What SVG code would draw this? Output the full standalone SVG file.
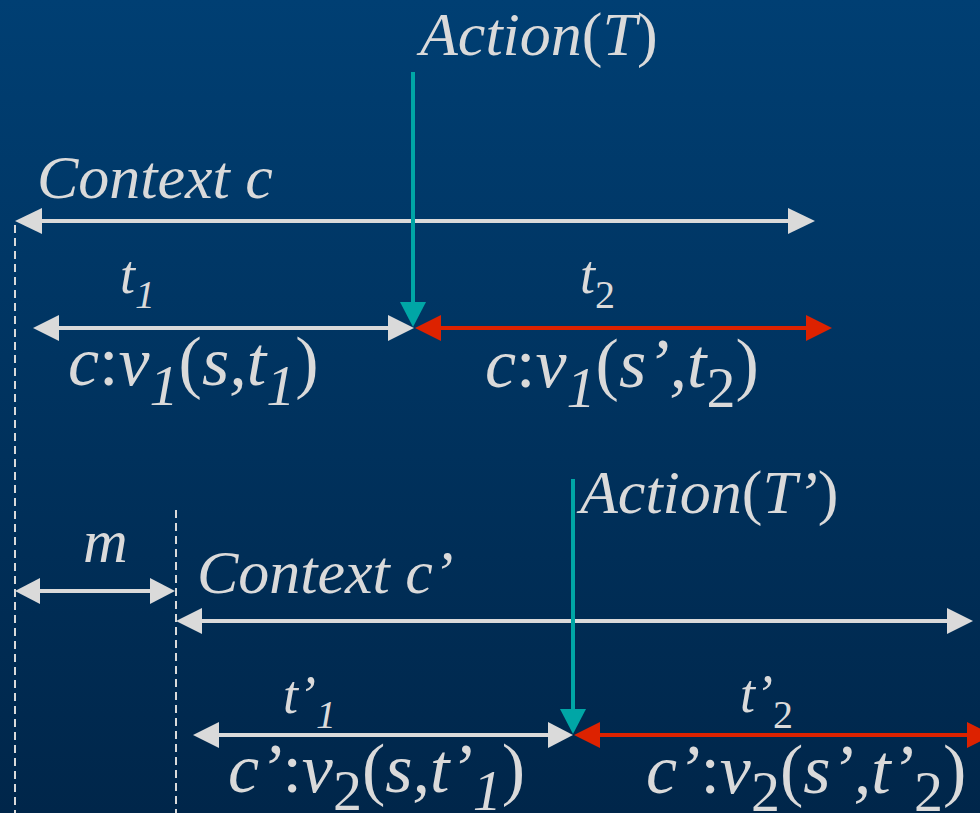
<svg xmlns="http://www.w3.org/2000/svg" width="980" height="813" viewBox="0 0 980 813">
<defs>
<linearGradient id="bg" x1="0" y1="0" x2="0" y2="1">
<stop offset="0" stop-color="#003F73"/>
<stop offset="1" stop-color="#00264A"/>
</linearGradient>
<style>
text{font-family:"Liberation Serif","Times New Roman",serif;font-style:italic;fill:#DADADA}
.big{font-size:62px}
.lab{font-size:70px}
.sub{font-size:58px}
.tl{font-size:54px}
.tsub{font-size:40px}
.up{font-style:normal}
.g{stroke:#DADADA;stroke-width:4;fill:none}
.r{stroke:#DD2200;stroke-width:4;fill:none}
.tq{stroke:#00A6A6;stroke-width:4;fill:none}
.dash{stroke:#DADADA;stroke-width:2;stroke-dasharray:8 5;fill:none}
.gh{fill:#DADADA}
.rh{fill:#DD2200}
.th{fill:#00A6A6}
</style>
</defs>
<rect width="980" height="813" fill="url(#bg)"/>

<g id="connectors">
<line class="dash" x1="15" y1="225" x2="15" y2="813"/>
<line class="dash" x1="176" y1="510" x2="176" y2="813"/>
<line class="g" x1="40" y1="221" x2="790" y2="221"/>
<polygon class="gh" points="15,221 42,208 42,234"/>
<polygon class="gh" points="815,221 788,208 788,234"/>
<line class="g" x1="57" y1="328" x2="390" y2="328"/>
<polygon class="gh" points="33,328 59,315 59,341"/>
<polygon class="gh" points="414,328 388,315 388,341"/>
<line class="r" x1="438" y1="328" x2="808" y2="328"/>
<polygon class="rh" points="415,328 441,315 441,341"/>
<polygon class="rh" points="832,328 806,315 806,341"/>
<line class="tq" x1="413" y1="72" x2="413" y2="304"/>
<polygon class="th" points="413,327 400,302 426,302"/>
<line class="g" x1="38" y1="591" x2="152" y2="591"/>
<polygon class="gh" points="15,591 40,578 40,604"/>
<polygon class="gh" points="175,591 150,578 150,604"/>
<line class="g" x1="200" y1="621" x2="949" y2="621"/>
<polygon class="gh" points="176,621 202,608 202,634"/>
<polygon class="gh" points="973,621 947,608 947,634"/>
<line class="g" x1="217" y1="735" x2="550" y2="735"/>
<polygon class="gh" points="193,735 219,722 219,748"/>
<polygon class="gh" points="573,735 548,722 548,748"/>
<line class="r" x1="598" y1="735" x2="969" y2="735"/>
<polygon class="rh" points="574,735 600,722 600,748"/>
<polygon class="rh" points="993,735 967,722 967,748"/>
<line class="tq" x1="573" y1="479" x2="573" y2="712"/>
<polygon class="th" points="573,734 560,709 586,709"/>
</g>

<g id="action-t"><text class="big" x="420" y="55">Action<tspan class="up">(</tspan>T<tspan class="up">)</tspan></text></g>
<g id="context-c"><text class="big" x="37" y="198">Context c</text></g>
<g id="t1-label"><text class="tl" x="120" y="293">t<tspan class="tsub" dy="15">1</tspan></text></g>
<g id="t2-label"><text class="tl" x="580" y="293">t<tspan class="tsub up" dy="15">2</tspan></text></g>
<g id="v1-s-t1"><text class="lab" x="68" y="385">c<tspan class="up">:</tspan>v<tspan class="sub" dy="20">1</tspan><tspan class="up" dy="-20">(</tspan>s,t<tspan class="sub" dy="20">1</tspan><tspan class="up" dy="-20">)</tspan></text></g>
<g id="v1-s2-t2"><text class="lab" x="485" y="387">c<tspan class="up">:</tspan>v<tspan class="sub" dy="20">1</tspan><tspan class="up" dy="-20">(</tspan>s’,t<tspan class="sub up" dy="20">2</tspan><tspan class="up" dy="-20">)</tspan></text></g>
<g id="action-t2"><text class="big" x="580" y="513">Action<tspan class="up">(</tspan>T’<tspan class="up">)</tspan></text></g>
<g id="m-label"><text class="big" x="83" y="562">m</text></g>
<g id="context-c2"><text class="big" x="197" y="593">Context c’</text></g>
<g id="t1p-label"><text class="tl" x="283" y="713">t’<tspan class="tsub" dy="15">1</tspan></text></g>
<g id="t2p-label"><text class="tl" x="740" y="712">t’<tspan class="tsub up" dy="16">2</tspan></text></g>
<g id="v2-s-t1p"><text class="lab" x="228" y="792">c’<tspan class="up">:</tspan>v<tspan class="sub up" dy="18">2</tspan><tspan class="up" dy="-18">(</tspan>s,t’<tspan class="sub" dy="18">1</tspan><tspan class="up" dy="-18">)</tspan></text></g>
<g id="v2-s2-t2p"><text class="lab" x="646" y="793">c’<tspan class="up">:</tspan>v<tspan class="sub up" dy="18">2</tspan><tspan class="up" dy="-18">(</tspan>s’,t’<tspan class="sub up" dy="18">2</tspan><tspan class="up" dy="-18">)</tspan></text></g>
</svg>
